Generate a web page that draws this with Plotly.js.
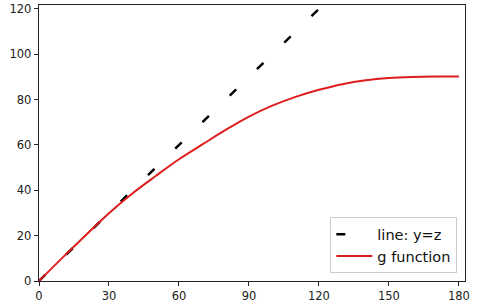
<!DOCTYPE html>
<html>
<head>
<meta charset="utf-8">
<script src="https://cdn.plot.ly/plotly-3.0.1.min.js"></script>
<style>html,body{margin:0;padding:0;background:#fff;}#chart{width:480px;height:306px;}</style>
</head>
<body>
<div id="chart"></div>
<script>
// identity line y = z
const lineZ = [0, 180];
const lineY = [0, 180];
// g function, values
const gZ = [0, 10, 20, 30, 40, 50, 60, 70, 80, 90, 100, 110, 120, 130, 140, 150, 160, 170, 180];
const gY = [0, 10.2, 20.2, 29.9, 38.6, 46.3, 53.7, 60.2, 66.6, 72.5, 77.3, 81.2, 84.3, 86.8, 88.5, 89.5, 90.0, 90.2, 90.2];
const xTicks = [0, 30, 60, 90, 120, 150, 180];
const yTicks = [0, 20, 40, 60, 80, 100, 120];

const traces = [
  {x: lineZ, y: lineY, mode: 'lines', name: 'line: y=z',
   line: {color: '#000000', width: 2.5, dash: '9px,29px'}},
  {x: gZ, y: gY, mode: 'lines', name: 'g function', line: {color: '#dc1e1e', width: 2, shape: 'spline'}}
];
const axisCommon = {
  showgrid: false, zeroline: false, showline: true, mirror: true,
  linecolor: '#222', linewidth: 1.3, ticks: 'outside', ticklen: 4, tickwidth: 1, tickcolor: '#222',
  tickfont: {family: 'DejaVu Sans', size: 11.5, color: '#222'}
};
const layout = {
  width: 480, height: 306,
  margin: {l: 39, r: 15, t: 5, b: 25},
  paper_bgcolor: '#fff', plot_bgcolor: '#fff',
  xaxis: Object.assign({}, axisCommon, {range: [0, 182.6], tickvals: xTicks, ticktext: xTicks.map(String)}),
  yaxis: Object.assign({}, axisCommon, {range: [0, 121.7], tickvals: yTicks, ticktext: yTicks.map(String)}),
  showlegend: true,
  legend: {x: 0.982, y: 0.028, xanchor: 'right', yanchor: 'bottom', bgcolor: '#fff',
           bordercolor: '#ccc', borderwidth: 1, itemwidth: 36,
           font: {family: 'DejaVu Sans', size: 14.5, color: '#111'}}
};
Plotly.newPlot('chart', traces, layout, {staticPlot: true, displayModeBar: false});
</script>
</body>
</html>
